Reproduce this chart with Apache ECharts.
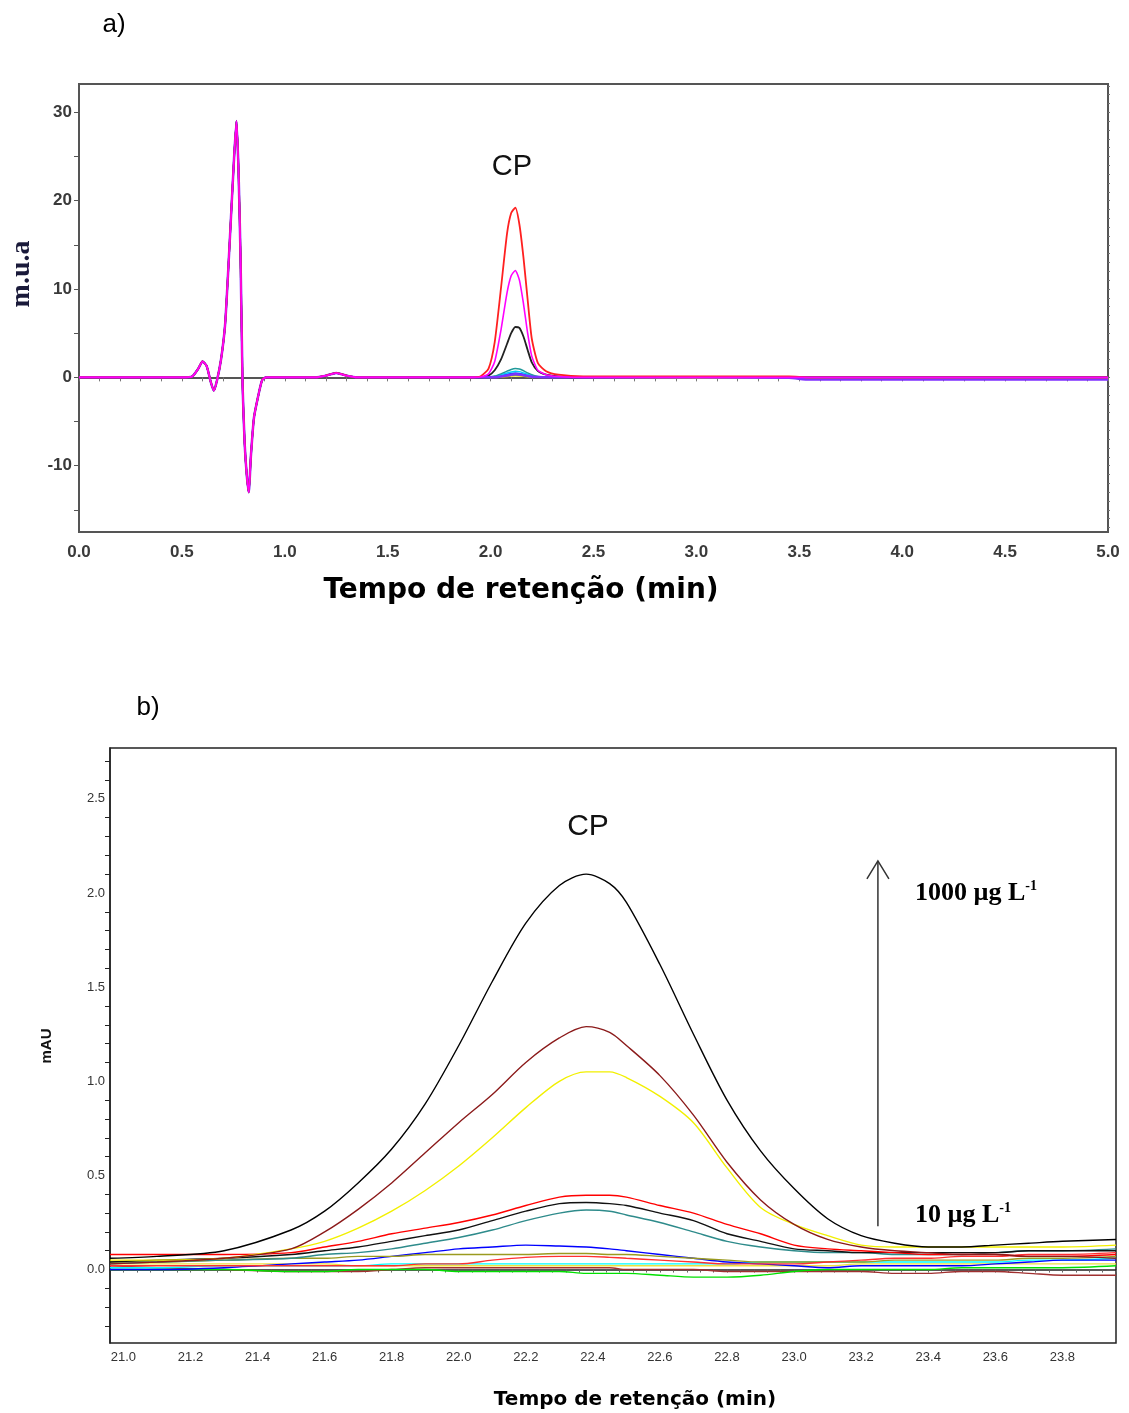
<!DOCTYPE html>
<html>
<head>
<meta charset="utf-8">
<script src="https://cdn.jsdelivr.net/npm/echarts@6/dist/echarts.min.js"></script>
<style>
  html, body { margin: 0; padding: 0; background: #fff; }
  #main { width: 1129px; height: 1413px; }
</style>
</head>
<body>
<div id="main"></div>
<script>
// ---- chart a) full chromatogram ----
// times before the CP peak (shared system peak, same for every trace)
var timeA1 = [0, 0.50, 0.55, 0.58, 0.60, 0.62, 0.64, 0.655, 0.67, 0.69, 0.71, 0.73, 0.75, 0.765, 0.775,
  0.785, 0.795, 0.805, 0.815, 0.825, 0.835, 0.85, 0.87, 0.89, 0.91, 1.15, 1.20, 1.25, 1.30, 1.35];
var systemPeakA = [0, 0, 0.1, 1.0, 1.8, 1.3, -0.5, -1.5, -0.4, 2.0, 6.0, 14.3, 23.3, 29.0, 23.5,
  13.5, -1.0, -7.5, -11.0, -13.0, -9.0, -4.6, -2.2, -0.3, 0, 0, 0.2, 0.5, 0.2, 0];
// times around the CP peak and after
var timeA2 = [1.90, 1.95, 1.99, 2.02, 2.05, 2.08, 2.10, 2.12, 2.14, 2.16, 2.18, 2.20, 2.23, 2.27, 2.33, 2.45, 3.00, 3.45, 3.55, 5.00];
var cpRed     = [0, 0.1, 1.0, 4.0, 10.0, 16.3, 18.6, 19.2, 17.3, 13.5, 8.8, 4.4, 1.6, 0.7, 0.3, 0.1, 0.1, 0.1, 0, 0];
var cpMagenta = [0, 0.05, 0.4, 1.8, 5.3, 9.6, 11.5, 12.1, 11.0, 8.3, 5.0, 2.4, 0.8, 0.3, 0.1, 0, 0, 0, 0, 0];
var cpBlack   = [0, 0, 0.2, 0.8, 2.0, 3.8, 5.0, 5.7, 5.6, 4.6, 3.1, 1.7, 0.7, 0.3, 0.1, 0, 0, 0, 0, 0];
var cpTeal    = [0, 0, 0.05, 0.15, 0.4, 0.7, 0.9, 1.0, 0.95, 0.75, 0.5, 0.3, 0.1, 0.05, 0, 0, 0, 0, 0, 0];
var cpCyan    = [0, 0, 0, 0.1, 0.3, 0.5, 0.6, 0.7, 0.65, 0.5, 0.35, 0.2, 0.08, 0, 0, 0, 0, 0, 0, 0];
var cpBlue    = [0, 0, 0, 0.05, 0.2, 0.35, 0.45, 0.5, 0.45, 0.35, 0.25, 0.12, 0.05, 0, 0, 0, 0, 0, 0, 0];
var cpGreen   = [0, 0, 0, 0.03, 0.1, 0.2, 0.25, 0.3, 0.28, 0.2, 0.13, 0.07, 0.03, 0, 0, 0, 0, 0, 0, 0];
var cpYellow  = [0, 0, 0, 0.02, 0.05, 0.1, 0.15, 0.18, 0.16, 0.12, 0.08, 0.04, 0.02, 0, 0, 0, -0.1, -0.1, -0.1, -0.1];
var cpPurple  = [0, 0, 0, 0, 0.1, 0.2, 0.3, 0.35, 0.3, 0.25, 0.15, 0.08, 0.03, 0, 0, 0, 0, -0.05, -0.25, -0.25];
var xLabelsA = [0, 0.5, 1.0, 1.5, 2.0, 2.5, 3.0, 3.5, 4.0, 4.5, 5.0];
var yLabelsA = [-10, 0, 10, 20, 30];

// ---- chart b) zoom on the CP peak ----
var timeB = [20.96, 21.1, 21.3, 21.5, 21.6, 21.7, 21.8, 21.9, 22.0, 22.1, 22.2, 22.3, 22.38, 22.45, 22.5,
  22.6, 22.7, 22.8, 22.9, 23.0, 23.1, 23.2, 23.3, 23.4, 23.5, 23.6, 23.7, 23.8, 23.96];
var bBlack1000 = [0.06, 0.07, 0.10, 0.21, 0.31, 0.46, 0.64, 0.88, 1.19, 1.53, 1.84, 2.04, 2.10, 2.05, 1.95,
  1.62, 1.25, 0.90, 0.63, 0.43, 0.27, 0.18, 0.14, 0.12, 0.12, 0.13, 0.14, 0.15, 0.16];
var bBrown = [0.03, 0.04, 0.06, 0.11, 0.20, 0.32, 0.46, 0.62, 0.78, 0.93, 1.10, 1.23, 1.29, 1.26, 1.19,
  1.03, 0.82, 0.57, 0.37, 0.24, 0.16, 0.12, 0.10, 0.09, 0.08, 0.08, 0.07, 0.07, 0.06];
var bYellow = [0.05, 0.05, 0.06, 0.11, 0.15, 0.22, 0.31, 0.42, 0.55, 0.70, 0.86, 1.00, 1.05, 1.05, 1.02,
  0.92, 0.78, 0.54, 0.33, 0.24, 0.18, 0.13, 0.12, 0.12, 0.12, 0.12, 0.12, 0.12, 0.13];
var bRed = [0.08, 0.08, 0.08, 0.09, 0.12, 0.15, 0.19, 0.22, 0.25, 0.29, 0.34, 0.385, 0.395, 0.395, 0.385,
  0.34, 0.30, 0.24, 0.19, 0.13, 0.11, 0.10, 0.09, 0.08, 0.08, 0.08, 0.07, 0.07, 0.08];
var bBlack100 = [0.04, 0.05, 0.06, 0.08, 0.10, 0.12, 0.15, 0.18, 0.21, 0.26, 0.31, 0.35, 0.356, 0.35, 0.34,
  0.30, 0.26, 0.19, 0.15, 0.11, 0.10, 0.09, 0.09, 0.09, 0.09, 0.09, 0.10, 0.10, 0.10];
var bTeal = [0.03, 0.04, 0.05, 0.06, 0.08, 0.09, 0.11, 0.14, 0.17, 0.21, 0.26, 0.30, 0.316, 0.31, 0.29,
  0.25, 0.20, 0.15, 0.12, 0.10, 0.09, 0.09, 0.08, 0.08, 0.08, 0.09, 0.10, 0.10, 0.11];
var bBlue = [0.0, 0.0, 0.01, 0.03, 0.04, 0.05, 0.07, 0.09, 0.11, 0.12, 0.13, 0.125, 0.12, 0.11, 0.10,
  0.08, 0.06, 0.04, 0.03, 0.02, 0.01, 0.02, 0.02, 0.02, 0.02, 0.03, 0.04, 0.05, 0.05];
var bOlive = [0.04, 0.04, 0.05, 0.06, 0.06, 0.07, 0.07, 0.08, 0.08, 0.08, 0.08, 0.085, 0.085, 0.08, 0.08,
  0.07, 0.06, 0.05, 0.04, 0.04, 0.04, 0.04, 0.05, 0.05, 0.05, 0.05, 0.06, 0.06, 0.07];
var bRed2 = [0.02, 0.02, 0.02, 0.02, 0.02, 0.02, 0.02, 0.03, 0.03, 0.05, 0.065, 0.07, 0.07, 0.065, 0.06,
  0.05, 0.04, 0.03, 0.03, 0.03, 0.04, 0.05, 0.06, 0.06, 0.07, 0.07, 0.08, 0.08, 0.09];
var bCyan = [0.01, 0.01, 0.02, 0.02, 0.02, 0.02, 0.03, 0.03, 0.03, 0.03, 0.03, 0.03, 0.03, 0.03, 0.03,
  0.03, 0.03, 0.03, 0.04, 0.04, 0.04, 0.04, 0.04, 0.04, 0.04, 0.04, 0.05, 0.05, 0.06];
var bGreen = [0.0, 0.0, 0.0, -0.01, -0.01, 0.0, 0.0, 0.0, -0.01, -0.01, -0.01, -0.01, -0.02, -0.02, -0.02,
  -0.03, -0.04, -0.04, -0.03, -0.01, 0.0, 0.0, 0.0, 0.0, 0.01, 0.01, 0.01, 0.01, 0.02];
var bDarkRed2 = [0.02, 0.01, 0.0, -0.01, -0.01, -0.01, 0.0, 0.01, 0.01, 0.01, 0.01, 0.01, 0.01, 0.01, 0.0,
  0.0, 0.0, -0.01, -0.01, -0.01, -0.01, -0.01, -0.02, -0.02, -0.01, -0.01, -0.02, -0.03, -0.03];
var bYellow2 = [0.03, 0.03, 0.03, 0.03, 0.03, 0.02, 0.02, 0.02, 0.02, 0.02, 0.02, 0.02, 0.02, 0.02, 0.02,
  0.02, 0.02, 0.02, 0.02, 0.02, 0.02, 0.03, 0.03, 0.03, 0.03, 0.03, 0.03, 0.03, 0.03];
var xLabelsB = [21.0, 21.2, 21.4, 21.6, 21.8, 22.0, 22.2, 22.4, 22.6, 22.8, 23.0, 23.2, 23.4, 23.6, 23.8];
var yLabelsB = [0, 0.5, 1.0, 1.5, 2.0, 2.5];
// arrow from 10 to 1000 ug/L, in chart b data units
var arrowB = [[23.25, 0.23], [23.25, 2.17]];

var labelFont = "'Liberation Sans', sans-serif";

function steps(from, to, step, skip) {
  var out = [];
  for (var v = from; v <= to + 1e-9; v += step) {
    var r = Math.round(v * 100) / 100;
    if (skip && skip.some(function (s) { return Math.abs(s - r) < 1e-6; })) continue;
    out.push(r);
  }
  return out;
}

function traceA(cp) {
  var t = timeA1.concat(timeA2);
  var v = systemPeakA.concat(cp);
  return t.map(function (x, i) { return [x, v[i]]; });
}
function traceB(vals) {
  return timeB.map(function (x, i) { return [x, vals[i]]; });
}

var seriesA = [
  ['#e8e000', cpYellow, 1.5], ['#20c020', cpGreen, 1.5], ['#2040ff', cpBlue, 1.5],
  ['#00ccff', cpCyan, 1.5], ['#209a9a', cpTeal, 1.5], ['#222222', cpBlack, 1.8],
  ['#8030ff', cpPurple, 2.5], ['#ff2020', cpRed, 1.8], ['#ff00ff', cpMagenta, 1.6]
].map(function (s) {
  return {
    type: 'line', xAxisIndex: 0, yAxisIndex: 0, data: traceA(s[1]),
    showSymbol: false, symbol: 'none', smooth: 0.2,
    lineStyle: { color: s[0], width: s[2] }
  };
});

var seriesB = [
  ['#a03030', bDarkRed2], ['#00e000', bGreen], ['#00ffff', bCyan], ['#f0e040', bYellow2],
  ['#0000ff', bBlue], ['#9a9a20', bOlive], ['#ff3030', bRed2], ['#2e8b8b', bTeal],
  ['#111111', bBlack100], ['#ff0000', bRed], ['#f2f000', bYellow], ['#8b1a1a', bBrown],
  ['#000000', bBlack1000]
].map(function (s) {
  return {
    type: 'line', xAxisIndex: 1, yAxisIndex: 2, data: traceB(s[1]),
    showSymbol: false, symbol: 'none', smooth: 0.3,
    lineStyle: { color: s[0], width: 1.4 }
  };
});

var chart = echarts.init(document.getElementById('main'));
var option = {
  animation: false,
  backgroundColor: '#fff',
  grid: [
    { left: 79, top: 84, width: 1029, height: 448, show: true, borderColor: '#555', borderWidth: 2 },
    { left: 110, top: 748, width: 1006, height: 595, show: true, borderColor: '#222', borderWidth: 1.5 }
  ],
  xAxis: [
    {
      gridIndex: 0, type: 'value', min: 0, max: 5,
      axisLine: { lineStyle: { color: '#555', width: 2 } },
      axisTick: { customValues: steps(0, 5, 0.1), length: 4, lineStyle: { color: '#777' } },
      axisLabel: {
        customValues: xLabelsA, formatter: function (v) { return v.toFixed(1); },
        fontFamily: labelFont, fontWeight: 'bold', fontSize: 17, color: '#3a3a3a', margin: 12
      },
      splitLine: { show: false }
    },
    {
      gridIndex: 1, type: 'value', min: 20.96, max: 23.96,
      axisLine: { lineStyle: { color: '#222', width: 1.5 } },
      axisTick: { customValues: steps(21.0, 23.96, 0.04), length: 3, lineStyle: { color: '#666' } },
      axisLabel: {
        customValues: xLabelsB, formatter: function (v) { return v.toFixed(1); },
        fontFamily: labelFont, fontSize: 13, color: '#333', margin: 8
      },
      splitLine: { show: false }
    }
  ],
  yAxis: [
    {
      gridIndex: 0, type: 'value', min: -17.5, max: 33.2,
      axisLine: { show: true, lineStyle: { color: '#555', width: 2 } },
      axisTick: { show: true, customValues: steps(-15, 30, 5), length: 5, lineStyle: { color: '#555' } },
      axisLabel: {
        customValues: yLabelsA, fontFamily: labelFont, fontWeight: 'bold', fontSize: 17, color: '#3a3a3a', margin: 7
      },
      splitLine: { show: false }
    },
    {
      gridIndex: 0, type: 'value', min: -17.5, max: 33.2,
      axisLine: { show: false },
      axisTick: { show: true, customValues: steps(-17, 33, 1), length: 2, lineStyle: { color: '#777' } },
      axisLabel: { show: false },
      splitLine: { show: false }
    },
    {
      gridIndex: 1, type: 'value', min: -0.39, max: 2.77,
      axisLine: { show: true, lineStyle: { color: '#222', width: 1.5 } },
      axisTick: { show: true, customValues: steps(-0.3, 2.7, 0.1, yLabelsB), length: 5, lineStyle: { color: '#222' } },
      axisLabel: {
        customValues: yLabelsB, formatter: function (v) { return v.toFixed(1); },
        fontFamily: labelFont, fontSize: 13, color: '#333', margin: 5
      },
      splitLine: { show: false }
    }
  ],
  series: seriesA.concat(seriesB),
  graphic: [
    { type: 'text', style: { x: 114, y: 25, text: 'a)', font: "26px 'Liberation Sans'", fill: '#000', align: 'center', verticalAlign: 'middle' } },
    { type: 'text', style: { x: 148, y: 708, text: 'b)', font: "26px 'Liberation Sans'", fill: '#000', align: 'center', verticalAlign: 'middle' } },
    { type: 'text', style: { x: 512, y: 167, text: 'CP', font: "29px 'Liberation Sans'", fill: '#111', align: 'center', verticalAlign: 'middle' } },
    { type: 'text', style: { x: 588, y: 827, text: 'CP', font: "30px 'Liberation Sans'", fill: '#111', align: 'center', verticalAlign: 'middle' } },
    { type: 'text', x: 22, y: 274, rotation: Math.PI / 2,
      style: { x: 0, y: 0, text: 'm.u.a', font: "bold 28px 'Liberation Serif'", fill: '#1a1a3a', align: 'center', verticalAlign: 'middle' } },
    { type: 'text', x: 47, y: 1046, rotation: Math.PI / 2,
      style: { x: 0, y: 0, text: 'mAU', font: "bold 15px 'Liberation Sans'", fill: '#111', align: 'center', verticalAlign: 'middle' } },
    { type: 'text', style: { x: 521, y: 591, text: 'Tempo de retenção (min)', font: "bold 28px 'DejaVu Sans'", fill: '#000', align: 'center', verticalAlign: 'middle' } },
    { type: 'text', style: { x: 635, y: 1400, text: 'Tempo de retenção (min)', font: "bold 20px 'DejaVu Sans'", fill: '#000', align: 'center', verticalAlign: 'middle' } },
    { type: 'text', style: {
        x: 915, y: 893, text: '{m|1000 µg L}{s|-1}', align: 'left', verticalAlign: 'middle',
        rich: {
          m: { fontFamily: 'Liberation Serif', fontWeight: 'bold', fontSize: 26, lineHeight: 28, fill: '#000' },
          s: { fontFamily: 'Liberation Serif', fontWeight: 'bold', fontSize: 14, lineHeight: 28, verticalAlign: 'top', fill: '#000' }
        } } },
    { type: 'text', style: {
        x: 915, y: 1215, text: '{m|10 µg L}{s|-1}', align: 'left', verticalAlign: 'middle',
        rich: {
          m: { fontFamily: 'Liberation Serif', fontWeight: 'bold', fontSize: 26, lineHeight: 28, fill: '#000' },
          s: { fontFamily: 'Liberation Serif', fontWeight: 'bold', fontSize: 14, lineHeight: 28, verticalAlign: 'top', fill: '#000' }
        } } }
  ]
};
chart.setOption(option);

// arrow drawn in chart b data coordinates
var bIdx = seriesA.length;
var p0 = chart.convertToPixel({ seriesIndex: bIdx }, arrowB[0]);
var p1 = chart.convertToPixel({ seriesIndex: bIdx }, arrowB[1]);
chart.setOption({
  graphic: [
    { id: 'arrowLine', type: 'line', shape: { x1: p0[0], y1: p0[1], x2: p1[0], y2: p1[1] },
      style: { stroke: '#333', lineWidth: 1.5 } },
    { id: 'arrowHead', type: 'polyline',
      shape: { points: [[p1[0] - 11, p1[1] + 18], [p1[0], p1[1]], [p1[0] + 11, p1[1] + 18]] },
      style: { stroke: '#333', lineWidth: 1.5, fill: null } }
  ]
});
</script>
</body>
</html>
